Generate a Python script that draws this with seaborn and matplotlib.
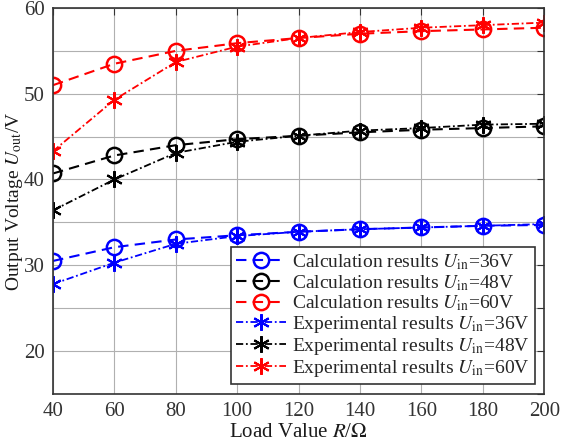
import matplotlib
matplotlib.use("Agg")
import matplotlib.pyplot as plt
import seaborn as sns
import pandas as pd
import numpy as np

R = [40, 60, 80, 100, 120, 140, 160, 180, 200]
calc_36 = [30.5, 32.1, 33.0, 33.5, 33.9, 34.2, 34.4, 34.6, 34.7]
calc_48 = [40.7, 42.8, 44.0, 44.7, 45.1, 45.5, 45.8, 46.0, 46.2]
calc_60 = [51.0, 53.5, 55.0, 55.9, 56.5, 57.0, 57.3, 57.5, 57.7]
exp_36 = [27.8, 30.3, 32.5, 33.4, 33.9, 34.2, 34.4, 34.6, 34.8]
exp_48 = [36.4, 40.0, 43.1, 44.4, 45.1, 45.7, 46.0, 46.4, 46.5]
exp_60 = [43.3, 49.3, 53.7, 55.5, 56.5, 57.2, 57.7, 58.0, 58.3]
xticks = [40, 60, 80, 100, 120, 140, 160, 180, 200]
yticks_major = [20, 30, 40, 50, 60]

sns.set_style("white")
plt.rcParams['font.family'] = ['Liberation Serif', 'DejaVu Serif']
plt.rcParams['mathtext.fontset'] = 'stix'

fig = plt.figure(figsize=(5.64, 4.45), dpi=100)
ax = fig.add_axes([0.094, 0.115, 0.871, 0.867])

series = [
    ("Calculation results $\\mathit{U}_{\\mathrm{in}}$=36V", calc_36, "#0000ff", (0, (5, 3)), "o"),
    ("Calculation results $\\mathit{U}_{\\mathrm{in}}$=48V", calc_48, "#000000", (0, (5, 3)), "o"),
    ("Calculation results $\\mathit{U}_{\\mathrm{in}}$=60V", calc_60, "#ff0000", (0, (5, 3)), "o"),
    ("Experimental results $\\mathit{U}_{\\mathrm{in}}$=36V", exp_36, "#0000ff", (0, (4, 1.5, 1, 1.5)), (6, 2, 0)),
    ("Experimental results $\\mathit{U}_{\\mathrm{in}}$=48V", exp_48, "#000000", (0, (4, 1.5, 1, 1.5)), (6, 2, 0)),
    ("Experimental results $\\mathit{U}_{\\mathrm{in}}$=60V", exp_60, "#ff0000", (0, (4, 1.5, 1, 1.5)), (6, 2, 0)),
]

for label, vals, color, ls, mk in series:
    df = pd.DataFrame({"R": R, "U": vals})
    if mk == "o":
        sns.lineplot(data=df, x="R", y="U", ax=ax, color=color, linestyle=ls, lw=1.5,
                     marker="o", markersize=11, markerfacecolor="none",
                     markeredgecolor=color, markeredgewidth=1.8, label=label)
    else:
        sns.lineplot(data=df, x="R", y="U", ax=ax, color=color, linestyle=ls, lw=1.3,
                     marker=mk, markersize=12, markeredgecolor=color,
                     markeredgewidth=1.5, label=label)

ax.set_xlim(40, 200)
ax.set_ylim(15, 60)
ax.set_xticks(xticks)
ax.set_xticklabels([str(t) for t in xticks])
yt = np.arange(15, 61, 5)
ax.set_yticks(yt)
ax.set_yticklabels([str(int(t)) if int(t) in yticks_major else "" for t in yt])
ax.grid(True, color="#b0b0b0", lw=0.8)
ax.tick_params(axis="both", labelsize=15, colors="#333333", direction="in", length=5,
               right=True, top=True, labelcolor="#333333", pad=6)
for s in ax.spines.values():
    s.set_color("#333333")
    s.set_linewidth(1.2)

ax.set_xlabel("Load Value $\\mathit{R}$/$\\Omega$", fontsize=15, color="#1a1a1a", labelpad=1)
ax.set_ylabel("Output Voltage $\\mathit{U}_{\\mathrm{out}}$/V", fontsize=14, color="#1a1a1a", labelpad=0)
ax.yaxis.set_label_coords(-0.058, 0.5)

leg = ax.legend(loc="lower right", fontsize=14, frameon=True, fancybox=False,
                edgecolor="#333333", handlelength=2.6, handletextpad=0.3,
                labelspacing=0.05, borderpad=0.25, borderaxespad=0.5)
leg.get_frame().set_linewidth(1.2)
leg.get_frame().set_alpha(1)

fig.savefig("out.png", dpi=100)
